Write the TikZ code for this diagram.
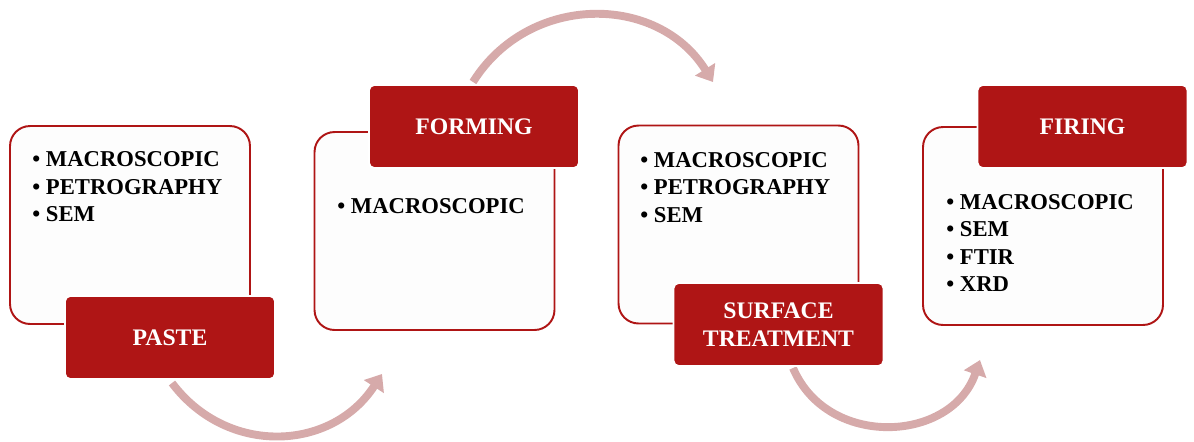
\documentclass[tikz,border=0pt]{standalone}
\usepackage{fontspec}
\setmainfont{Liberation Serif}
\usetikzlibrary{arrows.meta}
\definecolor{stagered}{RGB}{175,21,21}
\definecolor{flowpink}{RGB}{214,170,170}
\definecolor{paperwhite}{RGB}{253,253,253}
\begin{document}
\begin{tikzpicture}[x=0.02cm,y=-0.02cm,
	listbox/.style={draw=stagered,fill=paperwhite,line width=1.1pt,rounded corners=0.4cm,minimum width=4.8cm,minimum height=3.96cm,inner sep=0pt},
	stagebox/.style={draw=white,fill=stagered,line width=1.1pt,rounded corners=0.1cm,minimum width=4.2cm,minimum height=1.66cm,inner sep=0pt,text=white,align=center,font=\fontsize{13.5}{15.6}\selectfont\bfseries},
	itemlist/.style={anchor=north west,inner sep=0pt,align=left,font=\fontsize{12.9}{15.6}\selectfont\bfseries},
	flow/.style={draw=flowpink,line width=4.5pt,-{Triangle[width=0.46cm,length=0.3cm]}}]
			\useasboundingbox (0,0) rectangle (1194,441);
			% arrows between the stages
			\coordinate (a1s) at (172,383);
			\coordinate (a1e) at (382,374);
			\coordinate (a2s) at (473,82);
			\coordinate (a2e) at (713,82);
			\coordinate (a3s) at (793,368);
			\coordinate (a3e) at (980,360);
			\draw [flow] (a1s) to[out=-53,in=-123,looseness=1.12] (a1e);
			\draw [flow] (a2s) to[out=58,in=122,looseness=1.12] (a2e);
			\draw [flow] (a3s) to[out=-67,in=-109,looseness=1.2] (a3e);
			% white boxes
			\node [listbox] (pastebox) at (130,225) {};
			\node [listbox] (formbox) at (434.5,231) {};
			\node [listbox] (surfbox) at (738.5,224.5) {};
			\node [listbox] (firebox) at (1043,226) {};
			\node [itemlist] (pastelist) at (32,151.5) {\textbullet\ MACROSCOPIC\\\textbullet\ PETROGRAPHY\\\textbullet\ SEM};
			\node [itemlist] (formlist) at (337,198) {\textbullet\ MACROSCOPIC};
			\node [itemlist] (surflist) at (640,152) {\textbullet\ MACROSCOPIC\\\textbullet\ PETROGRAPHY\\\textbullet\ SEM};
			\node [itemlist] (firelist) at (946,194) {\textbullet\ MACROSCOPIC\\\textbullet\ SEM\\\textbullet\ FTIR\\\textbullet\ XRD};
			% red stage labels
			\node [stagebox] (paste) at (170,337.5) {PASTE};
			\node [stagebox] (forming) at (474,126.5) {FORMING};
			\node [stagebox] (surface) at (778.5,324.5) {SURFACE\\TREATMENT};
			\node [stagebox] (firing) at (1082.5,126.5) {FIRING};
		\end{tikzpicture}
\end{document}
